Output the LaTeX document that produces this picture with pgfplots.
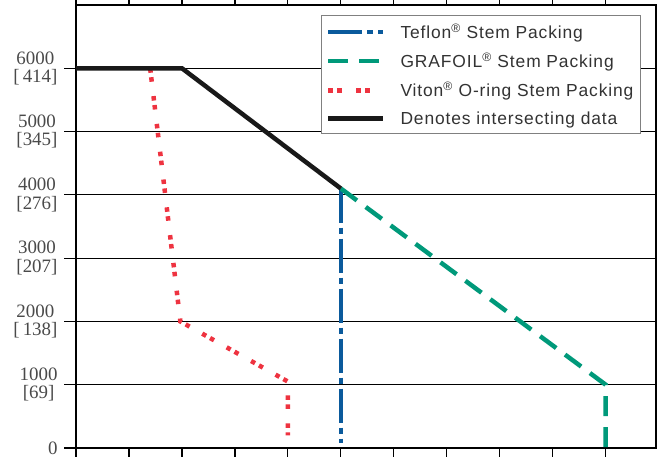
\documentclass[border=0pt]{standalone}
\usepackage{fontspec}
\setmainfont{Liberation Serif}
\newfontfamily\legfont[LetterSpace=5]{Liberation Sans}
\usepackage{pgfplots}
\pgfplotsset{compat=1.18}
\definecolor{teflon}{HTML}{0A5A9C}
\definecolor{grafoil}{HTML}{00997A}
\definecolor{viton}{HTML}{EE3340}
\definecolor{labgray}{HTML}{4A4A4A}
\begin{document}
\begin{tikzpicture}
\begin{axis}[
  scale only axis,
  width=580bp, height=443bp,
  xmin=0, xmax=10.95, ymin=0, ymax=7000,
  xtick={0,1,...,10}, xticklabels={},
  ytick={0,1000,...,6000},
  yticklabels={0,{1000\\\relax[69]},{2000\\\relax[\,138]},{3000\\\relax[207]},{4000\\\relax[276]},{5000\\\relax[345]},{6000\\\relax[\,414]}},
  yticklabel style={align=center, font=\fontsize{19}{18.5}\selectfont, text=labgray, xshift=-3bp},
  tick align=outside,
  major tick length=12bp,
  tick style={line width=1.2bp, black},
  ymajorgrids,
  major grid style={line width=1.2bp, black},
  axis line style={line width=2.5bp, black},
  legend style={at={(0.974,0.977)}, anchor=north east, draw=gray, line width=1bp,
    font=\legfont\fontsize{17.5}{18}\selectfont, text=black!80,
    row sep=9bp, inner xsep=5bp, inner ysep=6bp},
  legend cell align=left,
  legend image code/.code={\draw[#1] (0bp,0bp) -- (55bp,0bp); \path (68bp,0bp);},
  clip=false,
]
\addplot[teflon, line width=4.5bp, dash pattern=on 34bp off 5bp on 6bp off 5bp] coordinates {(5,4100) (5,80)};
\addlegendentry{Teflon\textsuperscript{®} Stem Packing}
\addplot[grafoil, line width=4.5bp, dash pattern=on 20bp off 11bp] coordinates {(5,4100) (10,1000) (10,0)};
\addlegendentry{GRAFOIL\textsuperscript{®} Stem Packing}
\addplot[viton, line width=4.5bp, dash pattern=on 4.5bp off 4.5bp on 4.5bp off 14.5bp] coordinates {(1.4,6000) (1.97,2000) (4,1050) (4,200)};
\addlegendentry{Viton\textsuperscript{®} O-ring Stem Packing}
\addplot[black!90, line width=4.5bp] coordinates {(0,6000) (2,6000) (5,4100)};
\addlegendentry{Denotes intersecting data}
\end{axis}
\pgfresetboundingbox
\useasboundingbox ([xshift=-76bp,yshift=-9bp]current axis.south west) rectangle ([xshift=1bp,yshift=5bp]current axis.north east);
\end{tikzpicture}
\end{document}
